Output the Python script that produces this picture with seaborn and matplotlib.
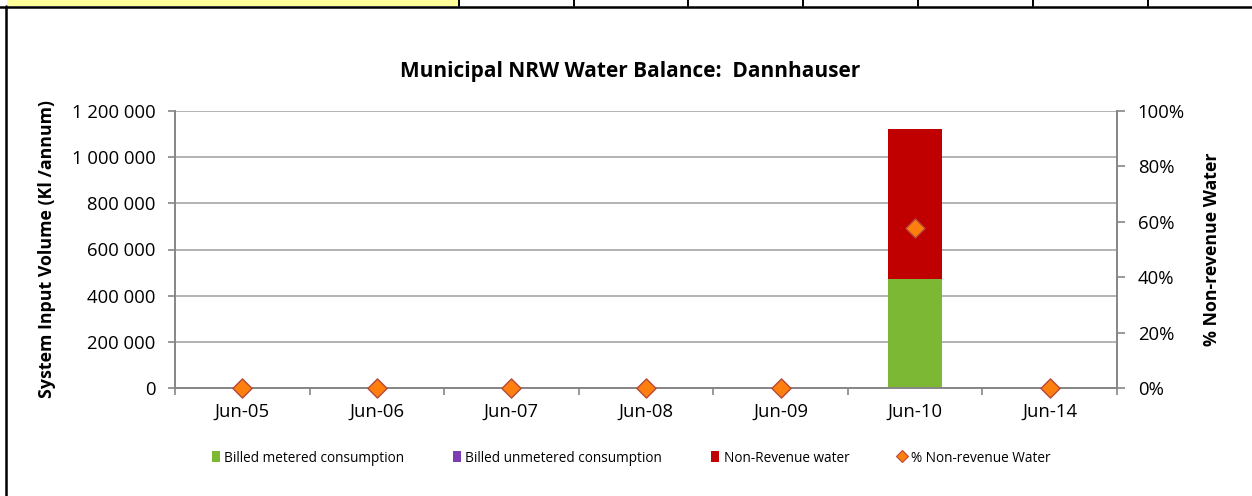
import numpy as np
import pandas as pd
import matplotlib
matplotlib.use("Agg")
import matplotlib.pyplot as plt
from matplotlib.lines import Line2D
from matplotlib.patches import Patch, Rectangle
from matplotlib.ticker import FuncFormatter, FixedLocator
import seaborn as sns

# ---- data -------------------------------------------------------------
periods = ["Jun-05", "Jun-06", "Jun-07", "Jun-08", "Jun-09", "Jun-10", "Jun-14"]
billed_metered = [0, 0, 0, 0, 0, 472000, 0]
billed_unmetered = [0, 0, 0, 0, 0, 0, 0]
non_revenue = [0, 0, 0, 0, 0, 649000, 0]
pct_non_revenue = [0.0, 0.0, 0.0, 0.0, 0.0, 0.579, 0.0]

series_names = ["Billed metered consumption", "Billed unmetered consumption",
                "Non-Revenue water", "% Non-revenue Water"]

# ---- style ------------------------------------------------------------
sns.set_theme(style="white")
plt.rcParams["font.family"] = ["Open Sans", "DejaVu Sans"]
plt.rcParams["text.color"] = "black"

C_GREEN = "#7CB834"
C_PURPLE = "#7D3EB5"
C_RED = "#C00000"
C_ORANGE = "#FF7F0E"
C_EDGE = "#B5493A"
C_AXIS = "#868686"
C_GRID = "#A6A6A6"

TICK_FS = 13.3
LABEL_FS = 12.8

df = pd.DataFrame({
    "period": periods,
    "metered": billed_metered,
    "unmetered": billed_unmetered,
    "nrw": non_revenue,
    "pct": pct_non_revenue,
})
# cumulative heights for stacked columns (drawn back to front)
df["top_unmetered"] = df["metered"] + df["unmetered"]
df["top_nrw"] = df["top_unmetered"] + df["nrw"]

W, H = 1252, 496
fig = plt.figure(figsize=(W / 100, H / 100), dpi=100)
ax = fig.add_axes([175 / W, 1 - 388 / H, (1117 - 175) / W, (388 - 111) / H])

sns.barplot(data=df, x="period", y="top_nrw", color=C_RED, width=0.4,
            saturation=1, ax=ax, order=periods, zorder=2)
sns.barplot(data=df, x="period", y="top_unmetered", color=C_PURPLE, width=0.4,
            saturation=1, ax=ax, order=periods, zorder=2)
sns.barplot(data=df, x="period", y="metered", color=C_GREEN, width=0.4,
            saturation=1, ax=ax, order=periods, zorder=2)
for p in ax.patches:
    p.set_linewidth(0)

ax.set_xlim(-0.5, len(periods) - 0.5)
ax.set_ylim(0, 1_200_000)
ax.set_yticks(np.arange(0, 1_200_001, 200_000))
ax.yaxis.set_major_formatter(FuncFormatter(lambda v, _: f"{int(v):,}".replace(",", " ")))
ax.grid(axis="y", color=C_GRID, linewidth=1.2, zorder=0)
ax.set_axisbelow(True)

for side in ["top", "right"]:
    ax.spines[side].set_visible(False)
for side in ["left", "bottom"]:
    ax.spines[side].set_color(C_AXIS)
    ax.spines[side].set_linewidth(1.4)

ax.set_xlabel("")
ax.set_ylabel("System Input Volume (Kl /annum)", fontsize=LABEL_FS, fontweight="bold",
              color="black", labelpad=11)
ax.tick_params(axis="y", which="major", direction="out", length=5, width=1.2,
               color=C_AXIS, labelsize=TICK_FS, labelcolor="black", pad=9, left=True)
ax.tick_params(axis="x", which="major", length=0, labelsize=TICK_FS, labelcolor="black", pad=11)
ax.xaxis.set_minor_locator(FixedLocator(np.arange(-0.5, len(periods), 1.0)))
ax.tick_params(axis="x", which="minor", direction="out", length=5, width=1.2,
               color=C_AXIS, bottom=True)

# secondary axis for the NRW percentage
ax2 = ax.twinx()
sns.scatterplot(x=np.arange(len(periods)), y=df["pct"], ax=ax2, marker="D", s=95,
                color=C_ORANGE, edgecolor=C_EDGE, linewidth=1.0, zorder=5, clip_on=False)
ax2.set_ylim(0, 1.0)
ax2.set_yticks(np.arange(0, 1.01, 0.2))
ax2.yaxis.set_major_formatter(FuncFormatter(lambda v, _: f"{v:.0%}"))
ax2.set_ylabel("% Non-revenue Water", fontsize=LABEL_FS, fontweight="bold",
               color="black", labelpad=13)
for side in ["top", "left", "bottom"]:
    ax2.spines[side].set_visible(False)
ax2.spines["right"].set_color(C_AXIS)
ax2.spines["right"].set_linewidth(1.4)
ax2.tick_params(axis="y", direction="out", length=6, width=1.2, color=C_AXIS,
                labelsize=TICK_FS, labelcolor="black", pad=9, right=True)
ax2.grid(False)

fig.text(630 / W, 1 - 72 / H, "Municipal NRW Water Balance:  Dannhauser",
         ha="center", va="center", fontsize=15, fontweight="bold", color="black")

handles = [
    Patch(facecolor=C_GREEN, edgecolor="none"),
    Patch(facecolor=C_PURPLE, edgecolor="none"),
    Patch(facecolor=C_RED, edgecolor="none"),
    Line2D([], [], marker="D", linestyle="none", markersize=6,
           markerfacecolor=C_ORANGE, markeredgecolor=C_EDGE, markeredgewidth=0.8),
]
fig.legend(handles, series_names, loc="center", bbox_to_anchor=(631 / W, 1 - 458 / H),
           ncol=4, frameon=False, fontsize=9.8, handlelength=0.6, handleheight=0.9,
           handletextpad=0.3, columnspacing=3.6, labelcolor="black")

# worksheet frame around the chart
fig.add_artist(Rectangle((7 / W, 1 - 5.5 / H), (458 - 7) / W, 5.5 / H,
                         transform=fig.transFigure, facecolor="#FFFF99",
                         edgecolor="none", zorder=0))
fig.add_artist(Line2D([0, 1], [1 - 6.5 / H] * 2, transform=fig.transFigure,
                      color="black", linewidth=1.8))
fig.add_artist(Line2D([6 / W] * 2, [0, 1 - 6 / H], transform=fig.transFigure,
                      color="black", linewidth=1.8))
for xc in [459, 573.5, 688, 803, 918, 1033, 1148]:
    fig.add_artist(Line2D([xc / W] * 2, [1 - 6 / H, 1], transform=fig.transFigure,
                          color="black", linewidth=1.4))

fig.savefig("out.png", dpi=100)
